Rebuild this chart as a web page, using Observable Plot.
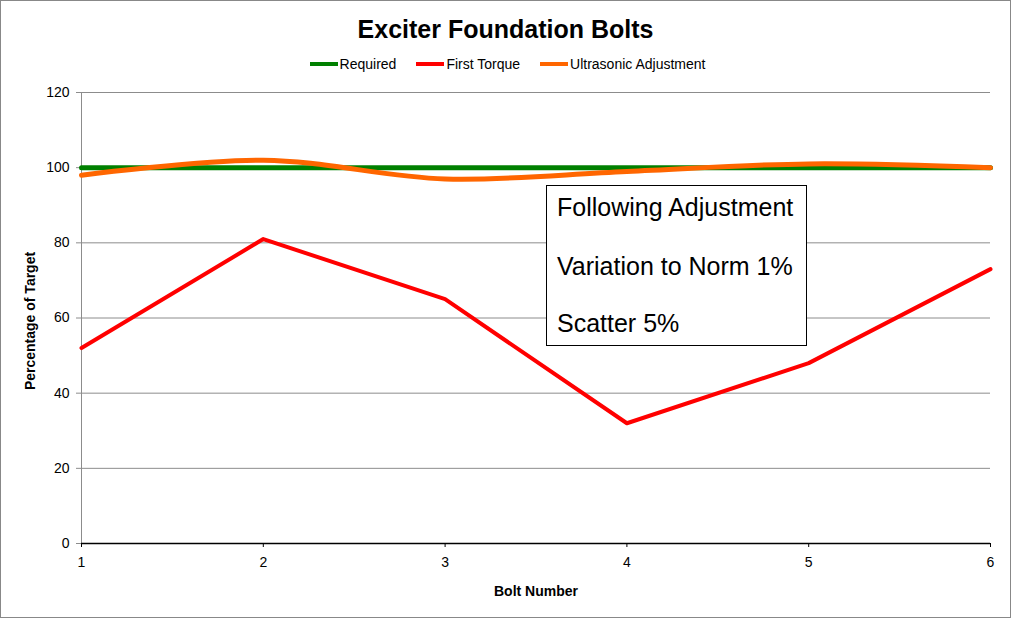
<!DOCTYPE html>
<html>
<head>
<meta charset="utf-8">
<script src="https://cdn.jsdelivr.net/npm/d3@7"></script>
<script src="https://cdn.jsdelivr.net/npm/@observablehq/plot@0.6"></script>
<style>
  body { margin: 0; background: #fff; font-family: "Liberation Sans", Arial, sans-serif; }
  #wrap { position: relative; width: 1011px; height: 618px; overflow: hidden; background: #fff; }
  #frame { position: absolute; left: 0; top: 0; width: 1011px; height: 618px; box-sizing: border-box; border: 1px solid #888; pointer-events: none; }
  #title { position: absolute; left: 0; width: 1011px; top: 15px; text-align: center; font-weight: bold; font-size: 25px; color: #000; }
  #legend { position: absolute; left: 0; width: 1011px; top: 56px; display: flex; justify-content: center; font-size: 14px; color: #000; padding-left: 4px; box-sizing: border-box; }
  .item { display: flex; align-items: center; margin: 0 10px; }
  .sw { width: 28px; height: 4px; margin-right: 2px; }
  #chart { position: absolute; left: 0; top: 80px; }
  #note { position: absolute; left: 546px; top: 185px; width: 261px; height: 161px; box-sizing: border-box; border: 1px solid #000; background: #fff; font-size: 25px; color: #000; }
  #note div { position: absolute; left: 10px; white-space: nowrap; }
</style>
</head>
<body>
<div id="wrap">
  <div id="title">Exciter Foundation Bolts</div>
  <div id="legend"></div>
  <div id="chart"></div>
  <div id="note">
    <div style="top:7px">Following Adjustment</div>
    <div style="top:66px">Variation to Norm 1%</div>
    <div style="top:123px">Scatter 5%</div>
  </div>
  <div id="frame"></div>
</div>
<script>
const bolts = [1, 2, 3, 4, 5, 6];
const required = [100, 100, 100, 100, 100, 100];
const firstTorque = [52, 81, 65, 32, 48, 73];
const ultrasonic = [98, 102, 97, 99, 101, 100];
const yTicks = [0, 20, 40, 60, 80, 100, 120];
const seriesNames = ["Required", "First Torque", "Ultrasonic Adjustment"];
const seriesColors = ["#008000", "#ff0000", "#ff6600"];

const legend = document.getElementById("legend");
seriesNames.forEach((n, i) => {
  const it = document.createElement("div");
  it.className = "item";
  it.innerHTML = `<span class="sw" style="background:${seriesColors[i]}"></span><span>${n}</span>`;
  legend.appendChild(it);
});

const toRows = (vals) => bolts.map((b, i) => ({bolt: b, value: vals[i]}));

const chart = Plot.plot({
  width: 1011,
  height: 536,
  marginTop: 12,
  marginBottom: 73,
  marginLeft: 81,
  marginRight: 21,
  style: {fontFamily: "'Liberation Sans', Arial, sans-serif", fontSize: "14px", color: "#000", background: "transparent"},
  x: {domain: [1, 6]},
  y: {domain: [0, 120]},
  marks: [
    Plot.ruleY(yTicks, {stroke: "#8c8c8c", strokeWidth: 1}),
    Plot.ruleX([1], {stroke: "#8c8c8c", strokeWidth: 1}),
    Plot.axisY({ticks: yTicks, tickSize: 5, tickPadding: 7, stroke: "#8c8c8c", label: null, fontSize: 14}),
    Plot.ruleY([0], {stroke: "#000", strokeWidth: 1.5}),
    Plot.axisX({ticks: bolts, tickSize: 4, tickPadding: 10, stroke: "#000", label: null, fontSize: 14, tickFormat: d3.format("d")}),
    Plot.line(toRows(required), {x: "bolt", y: "value", stroke: seriesColors[0], strokeWidth: 5}),
    Plot.line(toRows(firstTorque), {x: "bolt", y: "value", stroke: seriesColors[1], strokeWidth: 4}),
    Plot.line(toRows(ultrasonic), {x: "bolt", y: "value", stroke: seriesColors[2], strokeWidth: 5, curve: "catmull-rom"}),
    Plot.text(["Percentage of Target"], {frameAnchor: "left", dx: -51, dy: 3, rotate: -90, textAnchor: "middle", lineAnchor: "middle", fontWeight: "bold", fontSize: 14, fill: "#000"}),
    Plot.text(["Bolt Number"], {frameAnchor: "bottom", dy: 48, lineAnchor: "middle", fontWeight: "bold", fontSize: 14, fill: "#000"})
  ]
});
document.getElementById("chart").appendChild(chart);
</script>
</body>
</html>
